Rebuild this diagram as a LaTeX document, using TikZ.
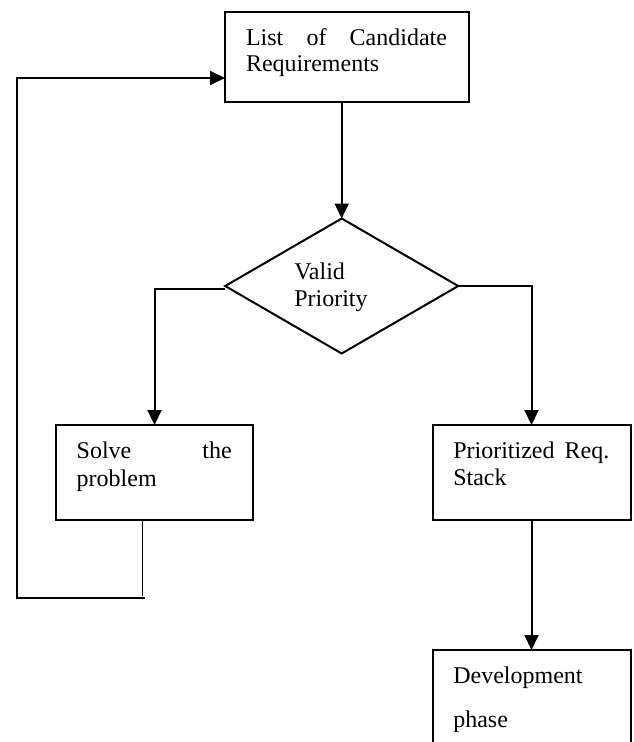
\documentclass[tikz,border=0pt]{standalone}
\usepackage{fontspec}
\setmainfont{Liberation Serif}
\usetikzlibrary{arrows.meta,shapes.geometric}
\begin{document}
\begin{tikzpicture}[x=1pt,y=-1pt,
  every node/.style={inner sep=0pt, outer sep=0pt},
  boxnode/.style={draw, line width=2pt, rectangle, anchor=north west},
  txt/.style={anchor=base west, font=\fontsize{24}{27}\selectfont},
  conn/.style={line width=2pt},
  arr/.style={conn, -{Triangle[width=14pt,length=15pt]}},
  thinconn/.style={line width=1.1pt}]
\useasboundingbox (0,0) rectangle (633,742);

% boxes
\node[boxnode, minimum width=244pt, minimum height=90pt] (cand) at (225,12) {};
\node[draw, diamond, line width=2pt, minimum width=233pt, minimum height=135pt] (valid) at (341.7,286) {};
\node[boxnode, minimum width=197pt, minimum height=95pt] (solve) at (56,425) {};
\node[boxnode, minimum width=198pt, minimum height=95pt] (prio) at (432.5,425) {};
\node[anchor=north west, minimum width=198pt, minimum height=92pt] (dev) at (432.5,650) {};
\draw[conn] (dev.south west) -- (dev.north west) -- (dev.north east) -- (dev.south east);

% texts
\node[txt] (candt) at (246,45) {\vtop{\baselineskip=26.7pt\hbox{\makebox[201pt][s]{List of Candidate}}\hbox{Requirements}}};
\node[txt] (validt) at (294.3,279) {\vtop{\baselineskip=27.7pt\hbox{Valid}\hbox{Priority}}};
\node[txt] (solvet) at (76.7,458.3) {\vtop{\baselineskip=27.7pt\hbox{\makebox[155pt][s]{Solve the}}\hbox{problem}}};
\node[txt] (priot) at (453.3,458.3) {\vtop{\baselineskip=26.7pt\hbox{\makebox[156pt][s]{Prioritized Req.}}\hbox{Stack}}};
\node[txt] (devt) at (453.3,683.3) {\vtop{\baselineskip=44pt\hbox{Development}\hbox{phase}}};

% connectors
\draw[arr] (cand.south -| valid.north) -- (valid.north);
\draw[arr] ([yshift=-3.3pt]valid.west) -| (solve.north);
\draw[arr] (valid.east) -- (valid.east -| prio.north) -- (prio.north);
\draw[arr] (prio.south) -- (dev.north);

% feedback loop
\coordinate (fbv) at (142.7,596);
\coordinate (fbr) at (144.5,597.7);
\coordinate (fbl) at (17,597.7);
\coordinate (fbt) at (17,78);
\draw[thinconn] (solve.south -| fbv) -- (fbv);
\draw[arr] (fbr) -- (fbl) -- (fbt) -- (fbt -| cand.west);
\end{tikzpicture}
\end{document}
